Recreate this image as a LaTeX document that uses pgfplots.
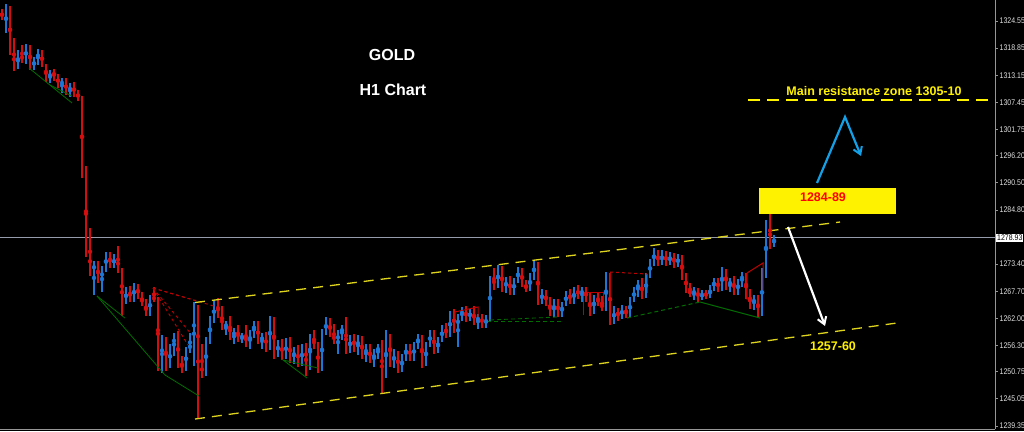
\documentclass[border=0pt]{standalone}
\usepackage{fontspec}
\setmainfont{Liberation Sans}
\newfontfamily\tickfont[FakeStretch=0.85]{Liberation Sans}
\usepackage{pgfplots}
\pgfplotsset{compat=1.18}
\usepackage{pgfplotstable}
\usetikzlibrary{arrows.meta}
\definecolor{bull}{RGB}{30,118,212}
\definecolor{bear}{RGB}{212,14,14}
\definecolor{axgray}{RGB}{150,150,150}
\definecolor{pricegray}{RGB}{150,155,172}
\definecolor{chyellow}{RGB}{222,212,30}
\definecolor{zzgreen}{RGB}{0,110,0}
\definecolor{zzred}{RGB}{190,0,0}
\definecolor{arrblue}{RGB}{20,160,230}

\pgfplotstableread{
x o h l c
6 1322.5 1328.2 1322 1327.5
18 1315 1318.5 1314.5 1317.5
26 1316.2 1319.8 1315.6 1319.3
34 1314.8 1317 1314.2 1316.5
38 1316.5 1318.6 1315.2 1318
50 1312.5 1314.2 1311.5 1313.8
62 1311 1312.5 1309.5 1312
70 1309.5 1311.5 1308.5 1311
94 1272 1274 1267 1273.5
102 1270 1273 1267.5 1272.5
106 1272.5 1276 1271.8 1275.5
114 1273 1275.5 1272.5 1275
126 1265.5 1268.5 1265 1268
134 1266 1269.5 1265.5 1269
150 1263 1267 1262.5 1266.5
162 1253 1258.5 1250.5 1257.5
170 1252 1256.5 1251.5 1256
174 1256 1259 1254 1258.5
186 1251.5 1256 1251 1255.5
190 1255.5 1259 1254.8 1256.5
194 1256.5 1265.5 1252 1264.5
206 1250.5 1258 1249.8 1257.5
210 1257.5 1262.5 1256.5 1261.8
214 1261.8 1265.8 1261 1265
226 1260 1261.5 1258.5 1261
234 1258 1260 1256.5 1259.5
242 1257.5 1259 1256.8 1258.7
250 1256.6 1259.5 1255.5 1259
254 1259 1261.5 1257.8 1261
262 1257 1259 1255.5 1258.5
270 1255.8 1262.5 1255.3 1261.8
278 1254.5 1257.5 1253.8 1257
286 1254 1257.8 1253.5 1257.2
294 1253.4 1256 1252.5 1255.5
302 1252.5 1256.5 1252 1256
310 1252.8 1258.8 1251.2 1258
322 1251.5 1259.8 1251 1259
326 1259 1262.2 1258.5 1261.5
338 1257 1259.5 1254.5 1259
342 1259 1260.5 1257.5 1260
350 1255.2 1258.5 1254.8 1258
358 1255.7 1258.5 1254.2 1257.8
366 1254.2 1256.5 1252.8 1256
374 1253 1255.5 1251.8 1255
378 1255 1256.5 1253.5 1256
386 1250 1259.5 1249.5 1258.5
394 1252.5 1255.5 1251.5 1254.8
402 1251 1254.5 1250.8 1254
406 1254 1256.5 1253 1256
414 1253.6 1257 1253 1256.5
418 1256.5 1258.8 1255.5 1258.2
426 1252.5 1257 1252 1256.5
430 1256.5 1259.5 1256 1259
438 1255.2 1258 1254.8 1257.5
442 1257.5 1260.5 1257 1260
450 1258.5 1263.5 1258 1263
458 1260 1263 1256 1262.5
462 1262.5 1264.3 1261.5 1263.8
470 1262 1264 1261.5 1263.5
478 1261.2 1263 1259.8 1262.5
486 1260.6 1262.8 1260 1262
490 1262 1271 1261.5 1270.5
498 1268.8 1273.2 1268.3 1272.5
506 1268.2 1270.8 1267.4 1270.2
514 1267.5 1270.5 1267 1270
518 1270 1272.8 1269.5 1272.2
530 1268 1271.5 1267.8 1271
534 1271 1274.3 1270 1273.5
542 1265.5 1268.2 1265 1267.5
554 1263.2 1266 1262.2 1265.5
562 1263 1265.5 1262.2 1265
566 1265 1267.8 1264.5 1267.2
574 1265.8 1268.5 1265 1268
582 1266.8 1268.7 1265.5 1268.2
594 1263.5 1267 1263 1266.5
606 1264.2 1271.8 1263.5 1270.5
614 1261.5 1264.5 1260.8 1263.8
622 1262.2 1264.8 1261.8 1264.2
630 1262.6 1266.5 1262.2 1266
634 1266 1268.5 1265.5 1268
638 1268 1270 1266.5 1269.5
646 1266.8 1271.5 1266.3 1271
650 1271 1274.5 1270.5 1274
654 1274 1276.8 1273 1276
662 1273.6 1276.3 1273.2 1275.8
670 1273.5 1276 1273.2 1275.5
678 1273.2 1275.5 1272.8 1275
694 1267 1268.5 1265.8 1268
702 1266.2 1268 1265.8 1267.5
710 1266.5 1269 1266.2 1268.5
714 1268.5 1270.5 1267.8 1270
722 1268.2 1272.8 1267.8 1272
730 1268.8 1270.5 1267.5 1270
738 1267.6 1270.2 1267 1269.8
742 1269.8 1271.8 1268.5 1271.2
754 1264.8 1267 1263.8 1266.5
762 1263 1272.5 1262.5 1271.8
766 1271.8 1282.7 1270.5 1281.8
774 1277.5 1279.6 1277 1278.9
}\upbars

\pgfplotstableread{
x o h l c
2 1326.5 1327 1324.8 1325.2
10 1327.5 1327.8 1317.5 1318
14 1318 1321 1314 1315
22 1317.5 1319.5 1315.8 1316.2
30 1319.3 1319.5 1314.3 1314.8
42 1318 1318.5 1314.8 1315.2
46 1315.2 1315.5 1311.8 1312.5
54 1313.8 1314.5 1312 1313
58 1313 1313.5 1310.5 1311
66 1312 1312.5 1309 1309.5
74 1311 1311.8 1308.5 1309.2
78 1309.2 1310 1307.8 1308.5
82 1308.5 1308.8 1291.5 1292
86 1292 1294 1275 1276
90 1276 1281 1271 1272
98 1273.5 1274 1269.5 1270
110 1275.5 1276 1272.5 1273
118 1275 1277.2 1271.5 1272
122 1272 1272.5 1262.5 1265.5
130 1268 1268.8 1265.5 1266
138 1269 1269.3 1266 1266.5
142 1266.5 1267.5 1264.5 1265
146 1265 1266 1262.5 1263
154 1266.5 1268.5 1265.5 1266
158 1266 1266.5 1251 1253
166 1257.5 1258 1251 1252
178 1258.5 1259.3 1251.5 1252.5
182 1252.5 1254 1250.5 1251.5
198 1264.5 1264.8 1241 1252
202 1252 1256.5 1249.5 1250.5
218 1265 1266.2 1262 1262.8
222 1262.8 1264.5 1259.5 1260
230 1261 1262.5 1257.5 1258
238 1259.5 1260.5 1257 1257.5
246 1258.7 1260.5 1256 1256.6
258 1261 1261.5 1256.5 1257
266 1258.5 1259.2 1255 1255.8
274 1261.8 1262.3 1253.5 1254.5
282 1257 1257.6 1253.2 1254
290 1257.2 1258 1252.6 1253.4
298 1255.5 1256.3 1251.8 1252.5
306 1256 1256.7 1249.8 1252.8
314 1258 1259.5 1255.5 1256
318 1256 1257 1250.5 1251.5
330 1261.5 1262 1258 1258.8
334 1258.8 1260.8 1256.5 1257
346 1260 1262.2 1254.5 1255.2
354 1258 1258.7 1255 1255.7
362 1257.8 1258.2 1253.5 1254.2
370 1256 1256.5 1252.6 1253
382 1256 1257.5 1246.3 1250
390 1258.5 1258.8 1251.8 1252.5
398 1254.8 1255.2 1250.5 1251
410 1256 1256.6 1253 1253.6
422 1258.2 1258.6 1251.5 1252.5
434 1259 1259.5 1254.5 1255.2
446 1260 1261 1257.8 1258.5
454 1263 1264 1259 1260
466 1263.8 1264.5 1261.2 1262
474 1263.5 1264.6 1260.5 1261.2
482 1262.5 1263 1260 1260.6
494 1270.5 1272.5 1268 1268.8
502 1272.5 1273 1267.5 1268.2
510 1270.2 1270.8 1266.8 1267.5
522 1272.2 1272.6 1268.5 1269.2
526 1269.2 1270 1267.5 1268
538 1273.5 1273.8 1264.8 1265.5
546 1267.5 1268 1264.5 1265.2
550 1265.2 1266.5 1262.5 1263.2
558 1265.5 1266 1262.3 1263
570 1267.2 1268.2 1265 1265.8
578 1268 1269 1266 1266.8
586 1268.2 1268.6 1265.5 1266
590 1266 1267.5 1262.5 1263.5
598 1266.5 1267.5 1264.5 1265
602 1265 1266.8 1263.5 1264.2
610 1270.5 1271.5 1260.6 1261.5
618 1263.8 1264.2 1261.5 1262.2
626 1264.2 1264.6 1262 1262.6
642 1269.5 1270.5 1266 1266.8
658 1276 1276.3 1273 1273.6
666 1275.8 1276.2 1273 1273.5
674 1275.5 1275.8 1272.5 1273.2
682 1275 1275.3 1270 1270.8
686 1270.8 1271.5 1267.4 1268
690 1268 1269.5 1266.5 1267
698 1268 1268.4 1265.5 1266.2
706 1267.5 1268 1266 1266.5
718 1270 1270.5 1267.5 1268.2
726 1272 1272.4 1268 1268.8
734 1270 1271 1267 1267.6
746 1271.2 1271.5 1266 1266.8
750 1266.8 1268.2 1264 1264.8
758 1266.5 1267 1262.1 1263
770 1281.8 1284.5 1276.5 1277.5
}\downbars

\pgfplotsset{
  wick/.style={only marks, mark=none, forget plot, color=#1,
    error bars/.cd, y dir=both, y explicit, error mark=none,
    error bar style={line width=1.2pt, color=#1}},
  body/.style={only marks, mark=none, forget plot, color=#1,
    error bars/.cd, y dir=both, y explicit, error mark=none,
    error bar style={line width=2.8pt, color=#1}},
}

\begin{document}
\begin{tikzpicture}[x=1pt,y=1pt]
\fill[black] (0,0) rectangle (1024,431);
\begin{axis}[
  at={(0pt,2pt)}, anchor=south west,
  scale only axis, width=995pt, height=429pt,
  xmin=0, xmax=995, ymin=1238.71, ymax=1328.97,
  axis x line*=bottom, axis y line*=right,
  axis line style={draw=axgray, line width=1pt},
  xtick=\empty,
  ytick={1239.35,1245.05,1250.75,1256.30,1262.00,1267.70,1273.40,1284.80,1290.50,1296.20,1301.75,1307.45,1313.15,1318.85,1324.55},
  yticklabels={1239.35,1245.05,1250.75,1256.30,1262.00,1267.70,1273.40,1284.80,1290.50,1296.20,1301.75,1307.45,1313.15,1318.85,1324.55},
  tick align=outside, major tick length=3pt,
  tick style={draw=axgray, line width=0.8pt},
  yticklabel style={font=\tickfont\fontsize{8.2}{9}\selectfont, text=white!88!black, anchor=west, xshift=1pt, inner xsep=0.5pt},
  clip=false,
]
% current price line
\draw[pricegray, line width=0.8pt] (axis cs:0,1278.93) -- (axis cs:995,1278.93);

% candles
\addplot[wick=bull] table[x=x, y expr=(\thisrow{h}+\thisrow{l})/2, y error expr=(\thisrow{h}-\thisrow{l})/2]{\upbars};
\addplot[body=bull] table[x=x, y expr=(\thisrow{o}+\thisrow{c})/2, y error expr=abs(\thisrow{c}-\thisrow{o})/2]{\upbars};
\addplot[wick=bear] table[x=x, y expr=(\thisrow{h}+\thisrow{l})/2, y error expr=(\thisrow{h}-\thisrow{l})/2]{\downbars};
\addplot[body=bear] table[x=x, y expr=(\thisrow{o}+\thisrow{c})/2, y error expr=abs(\thisrow{o}-\thisrow{c})/2]{\downbars};

% zigzag lines (green)
\draw[zzgreen, line width=0.8pt] (axis cs:29,1314.66) -- (axis cs:72,1307.30);
\draw[zzgreen, line width=0.8pt] (axis cs:50,1311.09) -- (axis cs:72,1308.77);
\draw[zzgreen, line width=0.8pt] (axis cs:97,1266.69) -- (axis cs:125,1262.06);
\draw[zzgreen, line width=0.8pt] (axis cs:97,1266.69) -- (axis cs:165,1250.07) -- (axis cs:199,1245.65);
\draw[zzgreen, line width=0.8pt] (axis cs:318,1251.54) -- (axis cs:283,1253.23) -- (axis cs:307,1249.44);
\draw[zzgreen, line width=1pt, dash pattern=on 4pt off 3pt] (axis cs:487,1261.43) -- (axis cs:562,1261.43);
\draw[zzgreen, line width=0.8pt, dash pattern=on 4pt off 3pt] (axis cs:490,1261.64) -- (axis cs:557,1262.27);
\draw[zzgreen, line width=1pt, dash pattern=on 4pt off 3pt] (axis cs:627,1262.06) -- (axis cs:700,1265.43);
\draw[zzgreen, line width=1pt] (axis cs:700,1265.43) -- (axis cs:760,1262.06);

% zigzag lines (red)
\draw[zzred, line width=0.9pt, dash pattern=on 3pt off 3pt] (axis cs:153,1268.37) -- (axis cs:197,1265.64);
\draw[zzred, line width=0.9pt, dash pattern=on 3pt off 3pt] (axis cs:153,1268.37) -- (axis cs:217,1264.38);
\draw[zzred, line width=0.9pt, dash pattern=on 3pt off 3pt] (axis cs:153,1268.37) -- (axis cs:192,1258.49);
\draw[zzred, line width=0.9pt, dash pattern=on 3pt off 3pt] (axis cs:153,1268.37) -- (axis cs:188,1256.38);
\draw[zzred, line width=1pt] (axis cs:455,1261.22) -- (axis cs:455,1263.33) -- (axis cs:478,1264.38) -- (axis cs:478,1262.06);
\draw[zzred, line width=1pt] (axis cs:583,1262.69) -- (axis cs:583,1267.33) -- (axis cs:603,1267.33) -- (axis cs:603,1264.8);
\draw[zzred, line width=1pt] (axis cs:610,1265.85) -- (axis cs:610,1271.74);
\draw[zzred, line width=1pt, dash pattern=on 3pt off 3pt] (axis cs:610,1271.74) -- (axis cs:647,1271.32);
\draw[zzred, line width=1pt] (axis cs:647,1271.32) -- (axis cs:647,1267.33);
\draw[zzred, line width=1pt] (axis cs:747,1265.85) -- (axis cs:747,1271.53) -- (axis cs:763,1273.64) -- (axis cs:763,1267.95);

% channel lines
\draw[chyellow, line width=1.3pt, dash pattern=on 10pt off 7pt] (axis cs:195,1265.32) -- (axis cs:840,1282.26);
\draw[chyellow, line width=1.3pt, dash pattern=on 10pt off 7pt] (axis cs:195,1240.81) -- (axis cs:897,1261.01);
% resistance line
\draw[yellow, line width=1.6pt, dash pattern=on 12pt off 7pt] (axis cs:748,1307.93) -- (axis cs:995,1307.93);
\node[text=yellow, font=\bfseries\fontsize{12.5}{14}\selectfont] at (axis cs:874,1309.82) {Main resistance zone 1305-10};

% arrows
\draw[arrblue, line width=2.2pt, line join=miter, -{Straight Barb[length=7pt,width=9pt,line width=2pt]}] (axis cs:817,1290.47) -- (axis cs:845,1304.35) -- (axis cs:861,1296.15);
\draw[white, line width=2.2pt, -{Straight Barb[length=7pt,width=9pt,line width=2pt]}] (axis cs:788,1281.21) -- (axis cs:825,1260.38);

% yellow box
\fill[yellow] (axis cs:759,1283.94) rectangle (axis cs:896,1289.41);
\node[text=red, font=\bfseries\fontsize{12.5}{14}\selectfont] at (axis cs:823,1287.52) {1284-89};
\node[text=yellow, font=\bfseries\fontsize{12.5}{14}\selectfont] at (axis cs:833,1256.17) {1257-60};

% titles
\node[text=white, font=\bfseries\fontsize{16}{18}\selectfont] at (axis cs:392,1317.4) {GOLD};
\node[text=white, font=\bfseries\fontsize{16}{18}\selectfont] at (axis cs:393,1310.03) {H1 Chart};

% current price label
\node[fill=white, text=black, anchor=west, inner xsep=1pt, inner ysep=1pt, font=\tickfont\fontsize{8.2}{9}\selectfont] at (axis cs:996,1278.93) {1278.93};
\end{axis}
\pgfresetboundingbox
\useasboundingbox (0,0) rectangle (1024,431);
\end{tikzpicture}
\end{document}
